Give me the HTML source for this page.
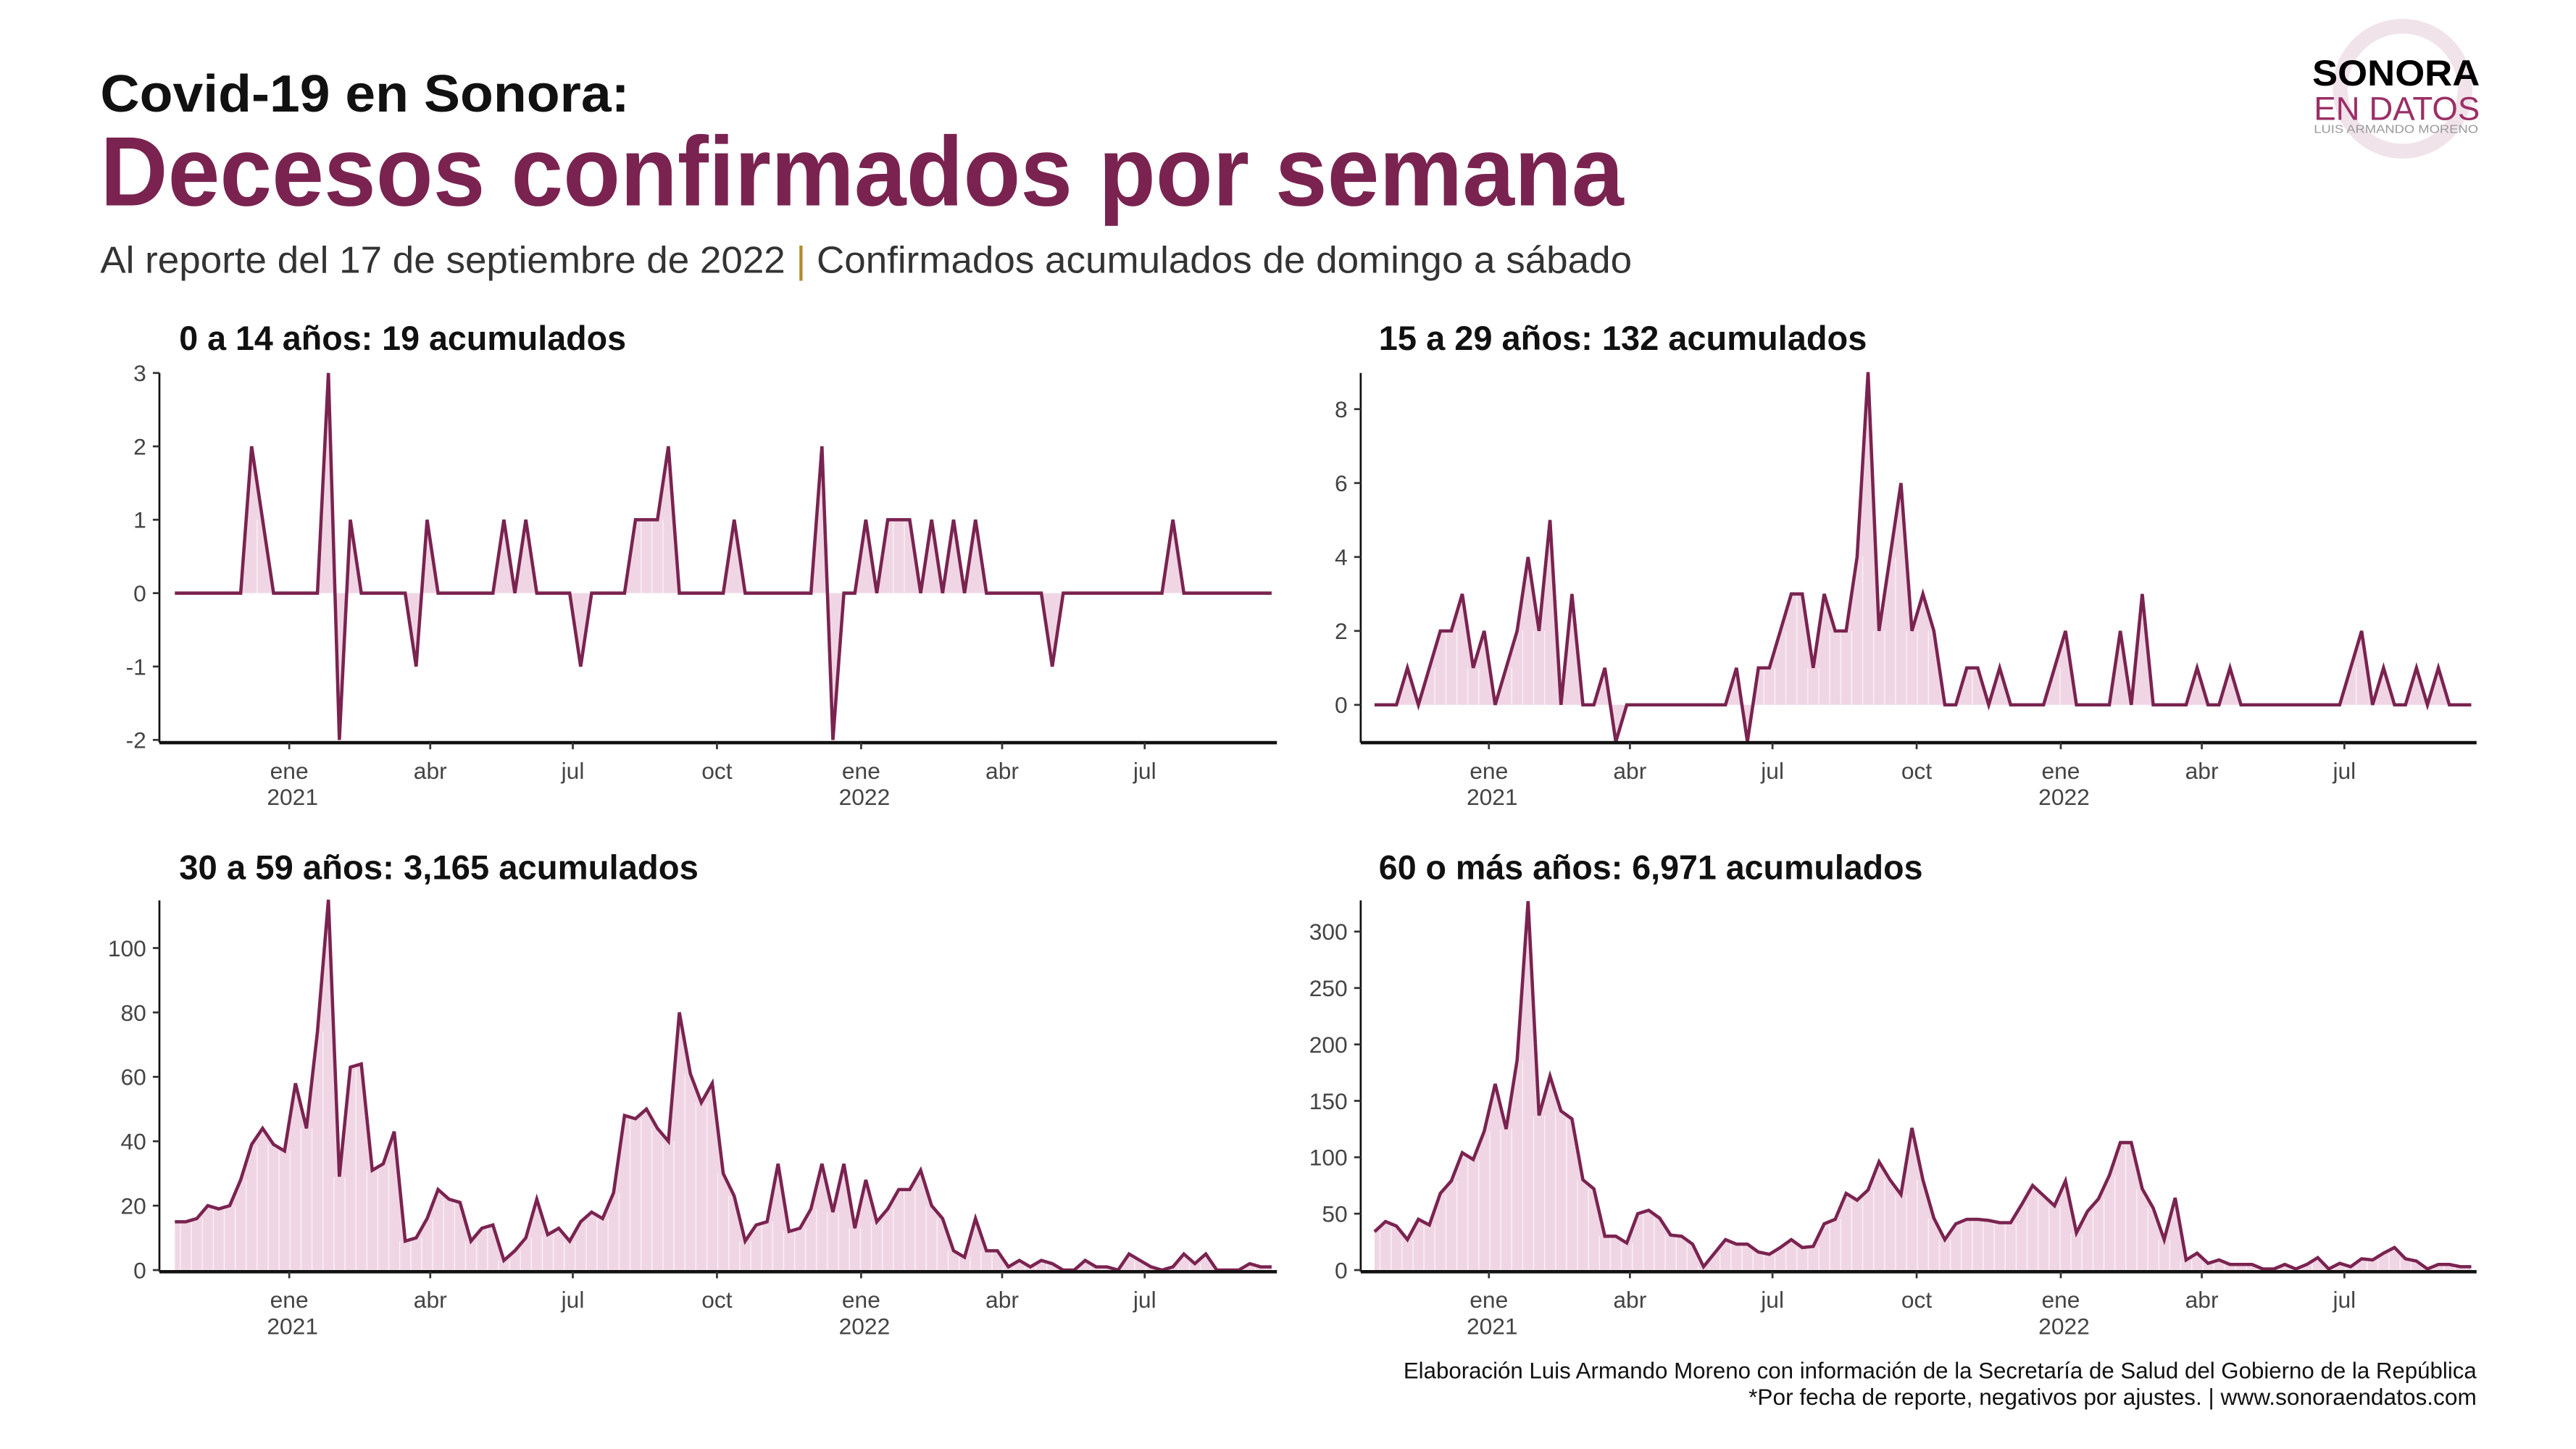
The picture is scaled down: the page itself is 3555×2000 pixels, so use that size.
<!DOCTYPE html>
<html><head><meta charset="utf-8"><style>
html,body{margin:0;padding:0;background:#fff;}
svg{display:block;font-family:"Liberation Sans",sans-serif;}
</style></head><body>
<svg id="root" width="3555" height="2000" viewBox="0 0 1567.5 881.9" preserveAspectRatio="none" xmlns="http://www.w3.org/2000/svg">
<g>
<circle cx="1462" cy="54" r="38" fill="none" stroke="#f1e3ea" stroke-width="9"/>
<text x="1407" y="52" font-size="22" font-weight="bold" fill="#000" textLength="102" lengthAdjust="spacingAndGlyphs">SONORA</text>
<text x="1408" y="73" font-size="20" fill="#9b2f66" textLength="101" lengthAdjust="spacingAndGlyphs">EN DATOS</text>
<text x="1408" y="81" font-size="7" fill="#999" textLength="100" lengthAdjust="spacingAndGlyphs">LUIS ARMANDO MORENO</text>
</g>
<text x="61" y="68" font-size="32" font-weight="bold" fill="#111" textLength="322" lengthAdjust="spacingAndGlyphs">Covid-19  en Sonora:</text>
<text x="61" y="125" font-size="60" font-weight="bold" fill="#7a2350" textLength="927" lengthAdjust="spacingAndGlyphs">Decesos confirmados por semana</text>
<text x="61" y="166" font-size="23" fill="#333" textLength="932" lengthAdjust="spacingAndGlyphs">Al reporte del 17 de septiembre de 2022 <tspan fill="#b08a2e">|</tspan> Confirmados acumulados de domingo a sábado</text>
<text x="1507" y="839" font-size="14" fill="#111" text-anchor="end" textLength="653" lengthAdjust="spacingAndGlyphs">Elaboración Luis Armando Moreno con información de la Secretaría de Salud del Gobierno de la República</text>
<text x="1507" y="855" font-size="14" fill="#111" text-anchor="end" textLength="443" lengthAdjust="spacingAndGlyphs">*Por fecha de reporte, negativos por ajustes. | www.sonoraendatos.com</text>
</svg>
<script>
const startDate = [2020, 9, 20];
const tickDates = [[2021,0,1],[2021,3,1],[2021,6,1],[2021,9,1],[2022,0,1],[2022,3,1],[2022,6,1]];
const tickLabels = ["ene","abr","jul","oct","ene","abr","jul"];
const tickYears = ["2021","","","","2022","",""];
const s0_14 = [0,0,0,0,0,0,0,2,1,0,0,0,0,0,3,-2,1,0,0,0,0,0,-1,1,0,0,0,0,0,0,1,0,1,0,0,0,0,-1,0,0,0,0,1,1,1,2,0,0,0,0,0,1,0,0,0,0,0,0,0,2,-2,0,0,1,0,1,1,1,0,1,0,1,0,1,0,0,0,0,0,0,-1,0,0,0,0,0,0,0,0,0,0,1,0,0,0,0,0,0,0,0,0];
const s15_29 = [0,0,0,1,0,1,2,2,3,1,2,0,1,2,4,2,5,0,3,0,0,1,-1,0,0,0,0,0,0,0,0,0,0,1,-1,1,1,2,3,3,1,3,2,2,4,9,2,4,6,2,3,2,0,0,1,1,0,1,0,0,0,0,1,2,0,0,0,0,2,0,3,0,0,0,0,1,0,0,1,0,0,0,0,0,0,0,0,0,0,1,2,0,1,0,0,1,0,1,0,0,0];
const s30_59 = [15,15,16,20,19,20,28,39,44,39,37,58,44,74,115,29,63,64,31,33,43,9,10,16,25,22,21,9,13,14,3,6,10,22,11,13,9,15,18,16,24,48,47,50,44,40,80,61,52,58,30,23,9,14,15,33,12,13,19,33,18,33,13,28,15,19,25,25,31,20,16,6,4,16,6,6,1,3,1,3,2,0,0,3,1,1,0,5,3,1,0,1,5,2,5,0,0,0,2,1,1];
const s60 = [34,43,39,27,45,40,68,79,104,98,123,165,125,186,327,137,172,141,134,80,72,30,30,24,50,53,46,31,30,23,3,15,27,23,23,16,14,20,27,20,21,41,45,68,62,71,96,80,67,126,80,46,27,41,45,45,44,42,42,58,75,66,57,79,33,52,63,84,113,113,72,55,27,64,9,15,6,9,5,5,5,1,1,5,1,5,11,1,6,3,10,9,15,20,10,8,1,5,5,3,3];

const NS="http://www.w3.org/2000/svg";
const root=document.getElementById('root');
function mk(tag,attrs,parent){const e=document.createElementNS(NS,tag);for(const k in attrs)e.setAttribute(k,attrs[k]);(parent||root).appendChild(e);return e;}
const DAY=86400000;
const t0=Date.UTC(startDate[0],startDate[1],startDate[2]);
const jan21=Date.UTC(2021,0,1);

function panel(cfg){
  const g=mk('g',{});
  
  
  const L=cfg.left, B=cfg.bottom, T=cfg.top;
  const xs=d=>cfg.xJan+(d-jan21)/DAY*0.9534;
  const ys=v=>cfg.y0+(v-0)*(cfg.yRef-cfg.y0)/cfg.refVal;
  const title=mk('text',{x:cfg.tx,y:cfg.ty,'font-size':21,'font-weight':'bold',fill:'#111',textLength:cfg.tw,lengthAdjust:'spacingAndGlyphs'},g);
  title.textContent=cfg.title;
  
  
  const data=cfg.data;
  const pts=data.map((v,i)=>[xs(t0+i*7*DAY),ys(v)]);
  const zero=ys(0);
  let d='M'+pts[0][0]+','+zero;
  pts.forEach(p=>d+=' L'+p[0]+','+p[1]);
  d+=' L'+pts[pts.length-1][0]+','+zero+' Z';
  const area=mk('path',{d:d,fill:'#f0d6e4',stroke:'none'},g);
  
  
  pts.forEach((p,i)=>{ if(i>0&&i<pts.length){ const ln=mk('line',{x1:p[0]-3.3,x2:p[0]-3.3,y1:zero,y2:Math.min(zero,Math.max(p[1],pts[i-1][1])),stroke:'#fff','stroke-width':0.6,opacity:0.7},g);
    
    }});
  const line=mk('polyline',{points:pts.map(p=>p.join(',')).join(' '),fill:'none',stroke:'#7a2350','stroke-width':2,'stroke-linejoin':'miter'},g);
  
  
  const ya=mk('line',{x1:L,x2:L,y1:T,y2:B,stroke:'#111','stroke-width':1.2},g);
  
  
  const xa=mk('line',{x1:L,x2:cfg.right,y1:B,y2:B,stroke:'#111','stroke-width':2},g);
  
  
  cfg.yTicks.forEach(v=>{const y=ys(v);
    const tk=mk('line',{x1:L-4,x2:L,y1:y,y2:y,stroke:'#333','stroke-width':1.2},g);
    
    
    const tl=mk('text',{x:L-8,y:y+5,'font-size':14,fill:'#444','text-anchor':'end'},g);
    tl.textContent=v;
    
    });
  tickDates.forEach((td,i)=>{const x=xs(Date.UTC(td[0],td[1],td[2]));
    const tk=mk('line',{x1:x,x2:x,y1:B,y2:B+4,stroke:'#333','stroke-width':1.2},g);
    
    
    const tl=mk('text',{x:x,y:B+22,'font-size':14,fill:'#444','text-anchor':'middle'},g);
    tl.textContent=tickLabels[i];
    
    
    if(tickYears[i]){const yl=mk('text',{x:x+2,y:B+38,'font-size':14,fill:'#444','text-anchor':'middle'},g);
      yl.textContent=tickYears[i];
      
      }
  });
}
panel({name:'panel-0-14',title:'0 a 14 años: 19 acumulados',tx:109,ty:213,tw:272,left:97,right:777,top:227,bottom:452,xJan:176,y0:361,yRef:227,refVal:3,yTicks:[3,2,1,0,-1,-2],data:s0_14});
panel({name:'panel-15-29',title:'15 a 29 años: 132 acumulados',tx:839,ty:213,tw:297,left:828,right:1507,top:227,bottom:452,xJan:906,y0:429,yRef:249,refVal:8,yTicks:[8,6,4,2,0],data:s15_29});
panel({name:'panel-30-59',title:'30 a 59 años: 3,165 acumulados',tx:109,ty:535,tw:316,left:97,right:777,top:548,bottom:774,xJan:176,y0:773,yRef:577,refVal:100,yTicks:[100,80,60,40,20,0],data:s30_59});
panel({name:'panel-60-plus',title:'60 o más años: 6,971 acumulados',tx:839,ty:535,tw:331,left:828,right:1507,top:548,bottom:774,xJan:906,y0:773,yRef:567,refVal:300,yTicks:[300,250,200,150,100,50,0],data:s60});
</script>
</body></html>
